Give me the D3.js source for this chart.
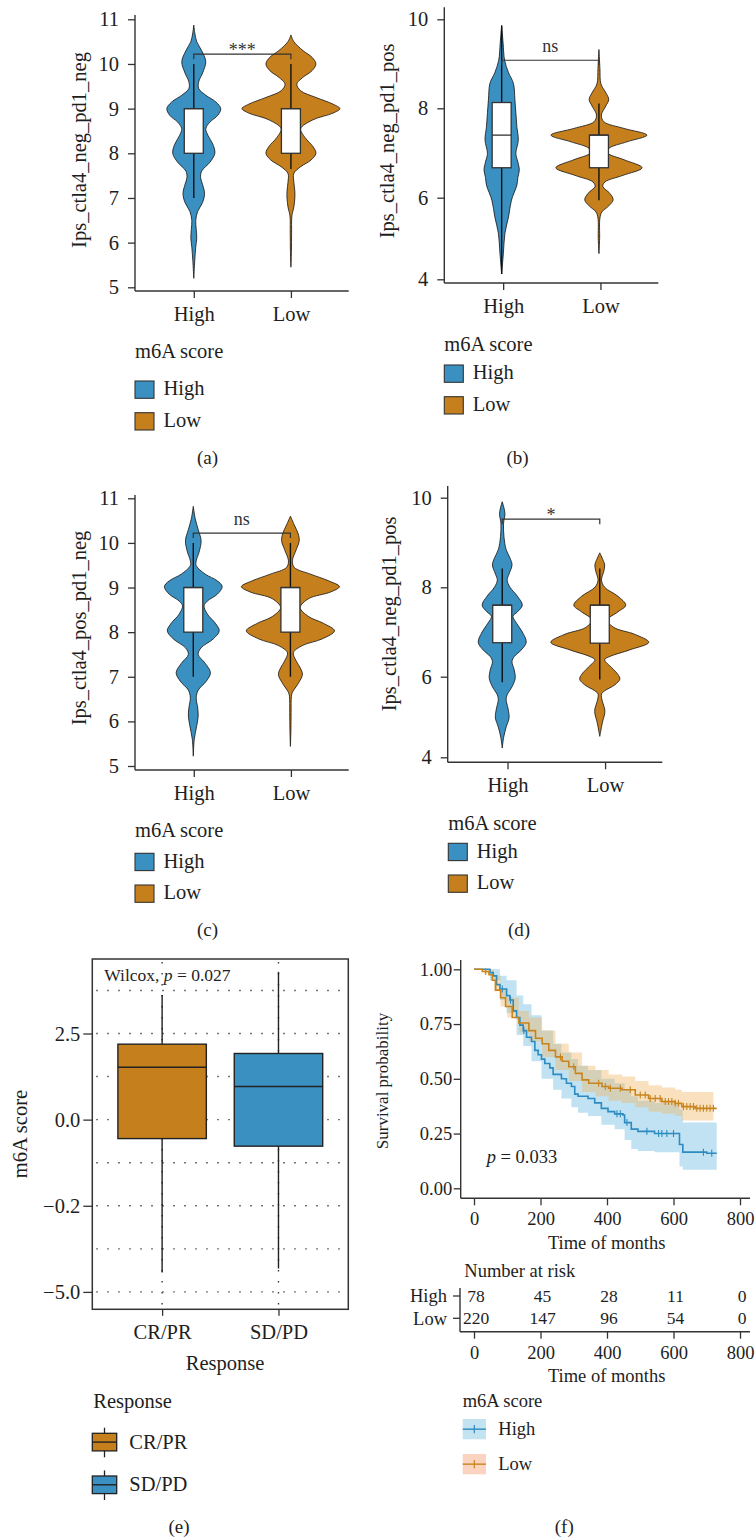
<!DOCTYPE html>
<html><head><meta charset="utf-8">
<script src="https://cdn.jsdelivr.net/npm/d3@7/dist/d3.min.js"></script>
<style>
body{margin:0;background:#fff}
svg text{font-family:"Liberation Serif","Times New Roman",serif;fill:#1e1e1e}
</style></head>
<body><svg id="c" width="755" height="1539"></svg>
<script>
// ---------------- DATA ----------------
const groups = ["High","Low"];
// violin density profiles: [value, relative density]
const violinA_High = [[10.87,0],[10.7,.02],[10.5,.06],[10.3,.16],[10.05,.245],[9.8,.18],[9.6,.10],[9.45,.10],[9.3,.245],[9.15,.45],[9.0,.55],[8.85,.49],[8.7,.33],[8.55,.245],[8.4,.29],[8.2,.39],[8.0,.43],[7.8,.33],[7.6,.16],[7.45,.14],[7.3,.18],[7.1,.22],[6.9,.18],[6.7,.08],[6.5,.04],[6.3,.05],[6.1,.06],[5.9,.04],[5.6,.02],[5.2,0]];
const violinA_Low = [[10.65,0],[10.5,.06],[10.3,.245],[10.15,.43],[10.0,.51],[9.85,.43],[9.7,.245],[9.55,.12],[9.4,.20],[9.25,.51],[9.1,.86],[9.0,1.0],[8.9,.86],[8.75,.45],[8.55,.20],[8.35,.29],[8.15,.45],[8.0,.51],[7.85,.41],[7.7,.20],[7.55,.06],[7.35,.06],[7.15,.08],[7.0,.08],[6.8,.06],[6.6,.02],[6.2,.014],[5.8,.01],[5.45,0]];
const violinB_High = [[9.87,0],[9.46,.03],[9.08,.06],[8.8,.14],[8.56,.24],[8.19,.27],[7.9,.29],[7.59,.31],[7.29,.34],[6.99,.29],[6.8,.33],[6.62,.36],[6.45,.33],[6.28,.31],[5.94,.20],[5.53,.14],[5.13,.067],[4.64,.035],[4.13,0]];
const violinB_Low = [[9.32,0],[8.9,.02],[8.55,.04],[8.35,.14],[8.2,.20],[8.05,.14],[7.85,.05],[7.7,.10],[7.55,.51],[7.4,.98],[7.25,.57],[7.1,.20],[7.0,.18],[6.85,.51],[6.67,.88],[6.5,.49],[6.35,.12],[6.25,.08],[6.1,.22],[5.95,.29],[5.8,.20],[5.65,.06],[5.5,.02],[5.0,.014],[4.63,0]];
const violinC_High = [[10.82,0],[10.54,.04],[10.3,.10],[10.05,.16],[9.8,.12],[9.6,.06],[9.49,.06],[9.3,.245],[9.15,.49],[9.02,.59],[8.85,.49],[8.7,.29],[8.59,.22],[8.4,.29],[8.2,.45],[8.03,.53],[7.85,.41],[7.65,.16],[7.5,.10],[7.3,.245],[7.09,.35],[6.9,.265],[6.7,.10],[6.53,.06],[6.3,.09],[6.12,.10],[5.9,.07],[5.6,.02],[5.22,0]];
const violinC_Low = [[10.6,0],[10.4,.08],[10.2,.16],[10.05,.18],[9.85,.12],[9.6,.04],[9.45,.08],[9.3,.41],[9.15,.78],[9.02,1.0],[8.9,.82],[8.75,.37],[8.55,.20],[8.35,.37],[8.2,.67],[8.03,.90],[7.85,.65],[7.7,.245],[7.54,.06],[7.35,.12],[7.2,.20],[7.05,.245],[6.85,.16],[6.65,.04],[6.56,.02],[6.2,.014],[5.8,.01],[5.44,0]];
const violinD_High = [[9.91,0],[9.65,.055],[9.43,.027],[9.13,.035],[8.84,.08],[8.65,.16],[8.5,.20],[8.3,.14],[8.16,.10],[8.0,.16],[7.8,.31],[7.6,.41],[7.45,.31],[7.35,.22],[7.2,.29],[7.0,.41],[6.77,.49],[6.6,.39],[6.45,.245],[6.34,.20],[6.15,.245],[5.96,.265],[5.75,.20],[5.55,.10],[5.43,.08],[5.2,.12],[4.98,.14],[4.75,.08],[4.5,.03],[4.23,0]];
const violinD_Low = [[8.77,0],[8.6,.07],[8.5,.10],[8.35,.08],[8.16,.035],[8.0,.10],[7.8,.37],[7.6,.53],[7.45,.37],[7.27,.16],[7.1,.29],[6.95,.71],[6.77,1.0],[6.6,.61],[6.45,.20],[6.38,.10],[6.2,.245],[6.05,.37],[5.94,.41],[5.8,.31],[5.65,.10],[5.57,.035],[5.4,.05],[5.2,.10],[5.08,.10],[4.9,.06],[4.52,0]];
// box stats: [lower whisker, q1, median, q3, upper whisker]
const boxA = [[7.0,8.0,9.0,9.0,10.0],[7.65,8.0,9.0,9.0,10.0]];
const boxB = [[4.13,6.67,7.40,8.13,9.85],[5.94,6.67,7.40,7.40,8.11]];
const boxC = [[7.0,8.0,9.0,9.0,10.0],[7.0,8.0,9.0,9.0,10.0]];
const boxD = [[5.86,6.76,7.6,7.6,8.42],[5.93,6.75,7.6,7.6,8.42]];
const ticksAC = [5,6,7,8,9,10,11];
const ticksBD = [4,6,8,10];
const sigA = {y:10.22, label:"***"}, sigB = {y:9.08, label:"ns"}, sigC = {y:10.22, label:"ns"}, sigD = {y:9.52, label:"*"};
const titleA = "Ips_ctla4_neg_pd1_neg", titleB = "Ips_ctla4_neg_pd1_pos", titleC = "Ips_ctla4_pos_pd1_neg", titleD = "Ips_ctla4_neg_pd1_pos";

// panel e
const responses = ["CR/PR","SD/PD"];
const boxE = [[-4.44,-0.55,1.52,2.19,3.62],[-4.32,-0.77,0.96,1.92,4.29]];
const ticksE = [2.5,0,-2.5,-5];
const tickLabelsE = ["2.5","0.0","\u22120.2","\u22125.0"];
const gridE = [3.75,2.5,1.25,0,-1.25,-2.5,-3.75,-5];

// panel f (Kaplan-Meier)
const kmTimeHigh = [0,48,58,68,78,98,108,118,128,138,148,158,173,183,193,203,213,228,238,263,278,293,303,313,343,363,383,403,423,448,453,473,493,543,618,628,700,730];
const kmSurvHigh = [1,.985,.97,.93,.91,.88,.86,.81,.78,.745,.72,.69,.67,.63,.61,.59,.57,.55,.52,.50,.48,.465,.43,.42,.41,.39,.365,.35,.34,.335,.30,.27,.26,.25,.20,.165,.16,.16];
const kmTimeLow = [0,25,45,55,65,80,95,115,135,165,185,205,225,245,265,285,305,325,345,385,405,445,485,525,565,605,625,665,730];
const kmSurvLow = [1,.99,.975,.95,.905,.87,.83,.78,.755,.72,.685,.66,.63,.60,.58,.555,.525,.495,.48,.465,.457,.45,.426,.41,.396,.388,.373,.365,.365];
const ciTimeHigh = [0,48,78,98,128,148,173,203,238,263,293,313,343,383,423,453,473,493,543,618,628,730];
const ciLowHigh = [1,.95,.86,.80,.70,.65,.58,.50,.45,.41,.37,.345,.33,.29,.27,.22,.18,.17,.165,.10,.085,.085];
const ciUpHigh = [1,1,.97,.95,.88,.84,.79,.72,.66,.62,.59,.56,.54,.50,.48,.45,.42,.40,.39,.36,.30,.30];
const ciTimeLow = [0,30,60,80,100,135,165,205,245,285,325,365,405,445,485,525,565,605,625,720];
const ciLowLow = [1,.98,.90,.83,.78,.71,.67,.60,.54,.49,.44,.42,.40,.39,.37,.35,.34,.33,.31,.30];
const ciUpLow = [1,1,.97,.91,.87,.81,.78,.72,.66,.62,.56,.54,.52,.51,.49,.47,.46,.45,.44,.435];
const censorHigh = [85,110,150,430,440,460,520,555,565,580,600,690,715];
const censorLow = [35,260,300,375,395,410,440,470,500,515,530,545,560,575,585,595,605,615,630,640,650,660,670,680,690,700,710,720];
const riskTimes = [0,200,400,600,800];
const riskHigh = [78,45,28,11,0];
const riskLow = [220,147,96,54,0];
const timeTicks = [0,200,400,600,800];
const survTicks = [0,0.25,0.5,0.75,1];

// ---------------- DRAW ----------------
const svg = d3.select("#c");
const BLUE = "#3A90C0", ORANGE = "#C57F1D", AX = "#333", INK = "#1e1e1e";
const colors = [BLUE, ORANGE];

function txt(g, x, y, s, size, anchor, rot) {
  const t = g.append("text").attr("font-size", size).attr("text-anchor", anchor || "start").text(s);
  if (rot) t.attr("transform", `translate(${x},${y}) rotate(${rot})`);
  else t.attr("x", x).attr("y", y);
  return t;
}
function hline(g, x1, x2, y, col, w) { return g.append("line").attr("x1",x1).attr("x2",x2).attr("y1",y).attr("y2",y).attr("stroke",col).attr("stroke-width",w); }
function vline(g, x, y1, y2, col, w) { return g.append("line").attr("x1",x).attr("x2",x).attr("y1",y1).attr("y2",y2).attr("stroke",col).attr("stroke-width",w); }

function violinPanel(c) {
  const g = svg.append("g");
  const y = d3.scaleLinear().domain(c.yDomain).range(c.yRange);
  const x = d3.scalePoint().domain(groups).range([c.left, c.right]).padding(0.6);
  const w = d3.scaleLinear().domain([0, 1]).range([0, 49]);
  const area = d3.area().curve(d3.curveCatmullRom.alpha(0.5)).y(d => y(d[0]));
  c.violins.forEach((prof, i) => {
    const cx = x(groups[i]) + c.dx;
    g.append("path").datum(prof)
      .attr("d", area.x0(d => cx - w(d[1])).x1(d => cx + w(d[1])))
      .attr("fill", colors[i]).attr("stroke", "#111").attr("stroke-width", 0.8);
  });
  c.boxes.forEach((b, i) => {
    const cx = x(groups[i]) + c.dx;
    vline(g, cx, y(b[0]), y(b[4]), "#111", 1.4);
    g.append("rect").attr("x", cx - 9.5).attr("width", 19).attr("y", y(b[3])).attr("height", y(b[1]) - y(b[3]))
      .attr("fill", "#fff").attr("stroke", "#333").attr("stroke-width", 1.3);
    hline(g, cx - 9.5, cx + 9.5, y(b[2]), "#333", 1.3);
  });
  // significance bracket
  const x1 = x(groups[0]) + c.dx, x2 = x(groups[1]) + c.dx, by = y(c.sig.y);
  g.append("path").attr("d", `M${x1},${by + 5}V${by}H${x2}V${by + 5}`).attr("fill", "none").attr("stroke", "#333").attr("stroke-width", 1.2);
  txt(g, (x1 + x2) / 2, by + (c.sig.label === "ns" ? -8.5 : 1.5), c.sig.label, 18, "middle").style("fill", "#333");
  // axes
  const ya = g.append("g").attr("transform", `translate(${c.left},0)`)
    .call(d3.axisLeft(y).tickValues(c.ticks).tickFormat(d3.format("d")).tickSize(7).tickPadding(9).tickSizeOuter(0));
  ya.select(".domain").remove();
  const xa = g.append("g").attr("transform", `translate(${c.axDx},${c.bottom})`)
    .call(d3.axisBottom(x).tickSize(7).tickPadding(8.5).tickSizeOuter(0));
  xa.select(".domain").remove();
  [ya, xa].forEach(a => {
    a.selectAll("line").attr("stroke", AX).attr("stroke-width", 1.3);
    a.selectAll("text").attr("font-size", 20.5).attr("font-family", null).style("fill", INK);
  });
  vline(g, c.left, c.top, c.bottom, AX, 1.4);
  hline(g, c.left, c.right, c.bottom, AX, 1.4);
  txt(g, c.titleX, c.titleY, c.title, 20.5, "middle", -90);
  // legend
  txt(g, c.legX, c.legTitleY, "m6A score", 20.5);
  c.legRows.forEach((ry, i) => {
    g.append("rect").attr("x", c.legX).attr("y", ry).attr("width", 19).attr("height", 17.3)
      .attr("fill", colors[i]).attr("stroke", "#333").attr("stroke-width", 1.1);
    txt(g, c.legX + 28.5, ry + 14.2, groups[i], 20.5);
  });
  txt(g, c.capX, c.capY, c.cap, 19, "middle");
}

violinPanel({left:135, right:348.7, top:15, bottom:291, yDomain:[5,11], yRange:[287.3,19.3], ticks:ticksAC,
  violins:[violinA_High, violinA_Low], boxes:boxA, sig:sigA, dx:0.5, axDx:0.5, title:titleA, titleX:85.5, titleY:150,
  legX:135, legTitleY:358.3, legRows:[381, 412.7], cap:"(a)", capX:207.5, capY:464});
violinPanel({left:444.3, right:658.3, top:7.3, bottom:283, yDomain:[4,6,8,10], yRange:[279.3,197.7,108.3,19.3], ticks:ticksBD,
  violins:[violinB_High, violinB_Low], boxes:boxB, sig:sigB, dx:-1, axDx:0.5, title:titleB, titleX:394, titleY:141,
  legX:444.3, legTitleY:350.7, legRows:[365, 396.7], cap:"(b)", capX:517.5, capY:464});
violinPanel({left:135, right:348.7, top:495, bottom:770, yDomain:[5,11], yRange:[766,498.3], ticks:ticksAC,
  violins:[violinC_High, violinC_Low], boxes:boxC, sig:sigC, dx:0, axDx:0.5, title:titleC, titleX:85.5, titleY:628,
  legX:135, legTitleY:836.7, legRows:[853.3, 885], cap:"(c)", capX:207.5, capY:936});
violinPanel({left:447.7, right:662.3, top:486, bottom:762.3, yDomain:[4,6,8,10], yRange:[757.3,676.7,587.3,497.7], ticks:ticksBD,
  violins:[violinD_High, violinD_Low], boxes:boxD, sig:sigD, dx:-4, axDx:1.3, title:titleD, titleX:395.5, titleY:614,
  legX:448.3, legTitleY:830, legRows:[843.3, 875], cap:"(d)", capX:519, capY:936});

// ---------- panel e ----------
(function () {
  const g = svg.append("g");
  const L = 92.3, R = 348.3, T = 959, B = 1309.3;
  const y = d3.scaleLinear().domain([-5, 2.5]).range([1291.9, 1033.5]);
  const x = d3.scalePoint().domain(responses).range([L, R]).padding(0.6);
  const bw = x.step() * 0.76;
  const eColors = [ORANGE, BLUE];
  gridE.forEach(v => hline(g, L, R, y(v), "#3a3a3a", 1.4).attr("stroke-dasharray", "1.4,9.6").attr("stroke-dashoffset", -4));
  responses.forEach(r => vline(g, x(r), T, B, "#3a3a3a", 1.4).attr("stroke-dasharray", "1.4,9.6").attr("stroke-dashoffset", -3));
  boxE.forEach((b, i) => {
    const cx = x(responses[i]);
    vline(g, cx, y(b[3]), y(b[4]), "#222", 1.4);
    vline(g, cx, y(b[0]), y(b[1]), "#222", 1.4);
    g.append("rect").attr("x", cx - bw / 2).attr("width", bw).attr("y", y(b[3])).attr("height", y(b[1]) - y(b[3]))
      .attr("fill", eColors[i]).attr("stroke", "#222").attr("stroke-width", 1.4);
    hline(g, cx - bw / 2, cx + bw / 2, y(b[2]), "#222", 1.5);
  });
  g.append("rect").attr("x", L).attr("y", T).attr("width", R - L).attr("height", B - T).attr("fill", "none").attr("stroke", AX).attr("stroke-width", 1.5);
  const t = txt(g, 104.3, 980.7, "Wilcox, ", 17.5);
  t.append("tspan").attr("font-style", "italic").text("p");
  t.append("tspan").text(" = 0.027");
  const ya = g.append("g").attr("transform", `translate(${L},0)`)
    .call(d3.axisLeft(y).tickValues(ticksE).tickFormat((d, i) => tickLabelsE[i]).tickSize(9).tickPadding(3).tickSizeOuter(0));
  const xa = g.append("g").attr("transform", `translate(0,${B})`)
    .call(d3.axisBottom(x).tickSize(6.5).tickPadding(9).tickSizeOuter(0));
  [ya, xa].forEach(a => {
    a.select(".domain").remove();
    a.selectAll("line").attr("stroke", AX).attr("stroke-width", 1.3);
    a.selectAll("text").attr("font-size", 20.5).attr("font-family", null).style("fill", INK);
  });
  txt(g, 27, 1134, "m6A score", 20.5, "middle", -90);
  txt(g, 225, 1370, "Response", 20.5, "middle");
  // legend
  txt(g, 93.3, 1408.3, "Response", 20.5);
  [1433.3, 1476].forEach((ry, i) => {
    const kx = 92.3, kw = 24.4, kh = 17.6;
    vline(g, kx + kw / 2, ry - 5.6, ry + kh + 6.4, "#222", 1.3);
    g.append("rect").attr("x", kx).attr("y", ry).attr("width", kw).attr("height", kh).attr("fill", eColors[i]).attr("stroke", "#222").attr("stroke-width", 1.3);
    hline(g, kx, kx + kw, ry + kh / 2, "#222", 1.4);
    txt(g, 129.3, ry + 15.2, responses[i], 20.5);
  });
  txt(g, 179, 1533, "(e)", 19, "middle");
})();

// ---------- panel f ----------
(function () {
  const g = svg.append("g");
  const x = d3.scaleLinear().domain([0, 800]).range([474, 740]);
  const y = d3.scaleLinear().domain([0, 1]).range([1188.3, 969.3]);
  const LB = "#2C8BC0", LO = "#C8841C";
  const series = [
    {t: kmTimeHigh, s: kmSurvHigh, ct: ciTimeHigh, lo: ciLowHigh, up: ciUpHigh, cens: censorHigh, line: LB, band: "#8ccbe8", op: 0.55},
    {t: kmTimeLow, s: kmSurvLow, ct: ciTimeLow, lo: ciLowLow, up: ciUpLow, cens: censorLow, line: LO, band: "#f0b868", op: 0.42}
  ];
  const area = d3.area().curve(d3.curveStepAfter).x(d => x(d[0])).y0(d => y(d[1])).y1(d => y(d[2]));
  const line = d3.line().curve(d3.curveStepAfter).x(d => x(d[0])).y(d => y(d[1]));
  series.forEach(s => {
    g.append("path").datum(s.ct.map((t, i) => [t, s.lo[i], s.up[i]])).attr("d", area).attr("fill", s.band).attr("fill-opacity", s.op);
  });
  series.forEach(s => {
    g.append("path").datum(s.t.map((t, i) => [t, s.s[i]])).attr("d", line).attr("fill", "none").attr("stroke", s.line).attr("stroke-width", 1.6);
    const bis = d3.bisector(d => d).right;
    s.cens.forEach(c => {
      const v = s.s[Math.max(0, bis(s.t, c) - 1)];
      vline(g, x(c), y(v) - 3.5, y(v) + 3.5, s.line, 1.1);
    });
  });
  // axes
  const ya = g.append("g").attr("transform", "translate(460.7,0)")
    .call(d3.axisLeft(y).tickValues(survTicks).tickFormat(d3.format(".2f")).tickSize(7).tickPadding(1.5).tickSizeOuter(0));
  const xa = g.append("g").attr("transform", "translate(0,1198.3)")
    .call(d3.axisBottom(x).tickValues(timeTicks).tickFormat(d3.format("d")).tickSize(7).tickPadding(7).tickSizeOuter(0));
  [ya, xa].forEach(a => {
    a.select(".domain").remove();
    a.selectAll("line").attr("stroke", AX).attr("stroke-width", 1.3);
    a.selectAll("text").attr("font-size", 18.5).attr("font-family", null).style("fill", INK);
  });
  vline(g, 460.7, 960, 1198.3, AX, 1.4);
  hline(g, 460.7, 750, 1198.3, AX, 1.4);
  txt(g, 388, 1081, "Survival probability", 17, "middle", -90);
  txt(g, 606.7, 1249.3, "Time of months", 18.5, "middle");
  const p = txt(g, 486.7, 1163.3, "p", 18.5);
  p.attr("font-style", "italic");
  p.append("tspan").attr("font-style", "normal").text(" = 0.033");
  // risk table
  txt(g, 464.3, 1277.3, "Number at risk", 18.5);
  const rows = [["High", riskHigh, 1296], ["Low", riskLow, 1318.3]];
  rows.forEach(r => {
    txt(g, 447, r[2], r[0], 18.5, "end").attr("dy", "0.35em");
    hline(g, 453, 460, r[2], AX, 1.3);
    r[1].forEach((n, i) => txt(g, x(riskTimes[i]) + 2, r[2], n, 17.5, "middle").attr("dy", "0.35em"));
  });
  vline(g, 460, 1288, 1331.7, AX, 1.4);
  const xa2 = g.append("g").attr("transform", "translate(0,1331.7)")
    .call(d3.axisBottom(x).tickValues(timeTicks).tickFormat(d3.format("d")).tickSize(7).tickPadding(7).tickSizeOuter(0));
  xa2.select(".domain").remove();
  xa2.selectAll("line").attr("stroke", AX).attr("stroke-width", 1.3);
  xa2.selectAll("text").attr("font-size", 18.5).attr("font-family", null).style("fill", INK);
  hline(g, 460, 750, 1331.7, AX, 1.4);
  txt(g, 606.7, 1381.7, "Time of months", 18.5, "middle");
  // legend
  txt(g, 462.7, 1407.3, "m6A score", 18.5);
  const keys = [["High", "#c4e3f0", LB, 1419], ["Low", "#fbd4c1", LO, 1454]];
  keys.forEach(k => {
    g.append("rect").attr("x", 462.7).attr("y", k[3]).attr("width", 23.3).attr("height", 20.3).attr("fill", k[1]);
    hline(g, 462.7, 486, k[3] + 10.15, k[2], 1.4);
    vline(g, 474.3, k[3] + 6, k[3] + 14.3, k[2], 1.2);
    txt(g, 498.3, k[3] + 16, k[0], 18.5);
  });
  txt(g, 564.3, 1533, "(f)", 19, "middle");
})();
</script></body></html>
